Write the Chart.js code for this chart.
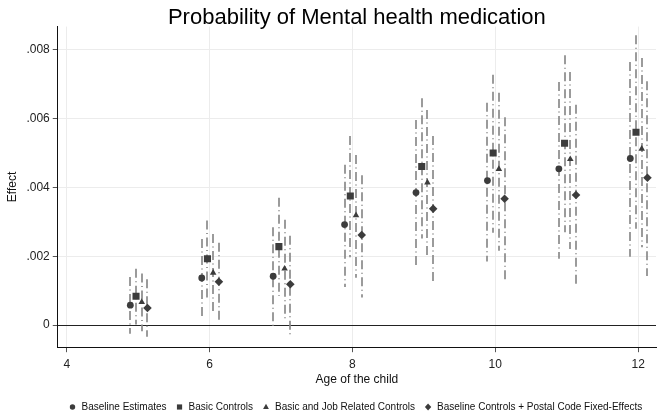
<!DOCTYPE html>
<html>
<head>
<meta charset="utf-8">
<script src="https://cdn.jsdelivr.net/npm/chart.js@4/dist/chart.umd.min.js"></script>
<style>
  html, body { margin: 0; padding: 0; background: #fff; }
  #wrap { width: 661px; height: 416px; }
</style>
</head>
<body>
<div id="wrap"><canvas id="c" width="661" height="416"></canvas></div>
<script>
// Age of the child (x categories)
const ages = [5, 6, 7, 8, 9, 10, 11, 12];

// Series names and horizontal dodge per model (in age units)
const seriesNames = [
  'Baseline Estimates',
  'Basic Controls',
  'Basic and Job Related Controls',
  'Baseline Controls + Postal Code Fixed-Effects'
];
const dodge = [-0.11, -0.03, 0.05, 0.13];

// Point estimates and confidence bounds for each model
const baselineEst = [0.00058, 0.00137, 0.00142, 0.00292, 0.00385, 0.00420, 0.00454, 0.00484];
const baselineLo  = [-0.00025, 0.00025, -0.00003, 0.00111, 0.00175, 0.00185, 0.00193, 0.00199];
const baselineHi  = [0.00140, 0.00250, 0.00284, 0.00466, 0.00596, 0.00646, 0.00706, 0.00764];

const basicEst = [0.00084, 0.00193, 0.00228, 0.00375, 0.00461, 0.00500, 0.00528, 0.00560];
const basicLo  = [0.00002, 0.00080, 0.00085, 0.00197, 0.00252, 0.00268, 0.00270, 0.00280];
const basicHi  = [0.00164, 0.00304, 0.00370, 0.00549, 0.00659, 0.00727, 0.00784, 0.00842];

const jobEst = [0.00067, 0.00152, 0.00164, 0.00319, 0.00414, 0.00453, 0.00482, 0.00512];
const jobLo  = [-0.00018, 0.00039, 0.00018, 0.00138, 0.00204, 0.00216, 0.00221, 0.00226];
const jobHi  = [0.00150, 0.00265, 0.00306, 0.00494, 0.00625, 0.00675, 0.00735, 0.00776];

const postalEst = [0.00050, 0.00126, 0.00119, 0.00262, 0.00338, 0.00367, 0.00378, 0.00428];
const postalLo  = [-0.00034, 0.00012, -0.00029, 0.00080, 0.00126, 0.00131, 0.00117, 0.00143];
const postalHi  = [0.00133, 0.00239, 0.00260, 0.00435, 0.00549, 0.00604, 0.00640, 0.00708];

// Axis ticks
const xTicks = [4, 6, 8, 10, 12];
const yTicks = [0, 0.002, 0.004, 0.006, 0.008];

const estimates = [baselineEst, basicEst, jobEst, postalEst];
const lowers = [baselineLo, basicLo, jobLo, postalLo];
const uppers = [baselineHi, basicHi, jobHi, postalHi];
const markers = ['circle', 'rect', 'triangle', 'rectRot'];
const markerRadius = [3.4, 5, 3.8, 4.3];

const FONT = "'Liberation Sans', Arial, sans-serif";
const markColor = '#3c3c3c';

const datasets = seriesNames.map((name, s) => ({
  label: name,
  data: ages.map((a, i) => ({ x: a + dodge[s], y: estimates[s][i] })),
  pointStyle: markers[s],
  pointRadius: markerRadius[s],
  pointBackgroundColor: markColor,
  pointBorderColor: markColor,
  pointBorderWidth: 0,
  backgroundColor: markColor,
  borderColor: markColor,
  showLine: false
}));

// Dashed confidence intervals behind the markers
const ciPlugin = {
  id: 'ciBars',
  beforeDatasetsDraw(chart) {
    const { ctx, scales: { x, y } } = chart;
    ctx.save();
    ctx.strokeStyle = '#8a8a8a';
    ctx.lineWidth = 1.7;
    ctx.setLineDash([9, 3.5, 1, 3.5]);
    ctx.lineCap = 'butt';
    seriesNames.forEach((_, s) => {
      ages.forEach((a, i) => {
        const px = Math.round(x.getPixelForValue(a + dodge[s]));
        ctx.beginPath();
        ctx.moveTo(px, y.getPixelForValue(uppers[s][i]));
        ctx.lineTo(px, y.getPixelForValue(lowers[s][i]));
        ctx.stroke();
      });
    });
    ctx.restore();
  }
};

// Small marker shapes for the legend row
function legendMarker(ctx, style, cx, cy) {
  ctx.beginPath();
  if (style === 'circle') {
    ctx.arc(cx, cy, 2.7, 0, Math.PI * 2);
  } else if (style === 'rect') {
    ctx.rect(cx - 2.6, cy - 2.6, 5.2, 5.2);
  } else if (style === 'triangle') {
    ctx.moveTo(cx, cy - 3.2);
    ctx.lineTo(cx + 2.9, cy + 2);
    ctx.lineTo(cx - 2.9, cy + 2);
    ctx.closePath();
  } else {
    ctx.moveTo(cx, cy - 3.6);
    ctx.lineTo(cx + 3.2, cy);
    ctx.lineTo(cx, cy + 3.6);
    ctx.lineTo(cx - 3.2, cy);
    ctx.closePath();
  }
  ctx.fill();
}

// One-row legend centred under the plot area
const legendRow = {
  id: 'legendRow',
  afterDraw(chart) {
    const { ctx, chartArea } = chart;
    const y = 407;
    const markGap = 10;
    const itemGap = 12;
    ctx.save();
    ctx.font = '10px ' + FONT;
    ctx.textBaseline = 'middle';
    ctx.textAlign = 'left';
    const widths = seriesNames.map(n => ctx.measureText(n).width);
    const total = widths.reduce((a, w) => a + markGap + w, 0) + itemGap * (seriesNames.length - 1);
    let x = (chartArea.left + chartArea.right) / 2 - total / 2;
    seriesNames.forEach((name, s) => {
      ctx.fillStyle = markColor;
      legendMarker(ctx, markers[s], x + 1, y);
      ctx.fillStyle = '#111';
      ctx.fillText(name, x + markGap, y + 0.5);
      x += markGap + widths[s] + itemGap;
    });
    ctx.restore();
  }
};

new Chart(document.getElementById('c'), {
  type: 'scatter',
  data: { datasets },
  plugins: [ciPlugin, legendRow],
  options: {
    responsive: false,
    animation: false,
    devicePixelRatio: 1,
    layout: { padding: { left: 1, right: 4, top: 9, bottom: 25 } },
    plugins: {
      tooltip: { enabled: false },
      legend: { display: false },
      title: {
        display: true,
        text: 'Probability of Mental health medication',
        fullSize: false,
        color: '#000',
        font: { family: FONT, size: 22, weight: 'normal', lineHeight: 0.8 },
        padding: { top: 0, bottom: 0 }
      }
    },
    scales: {
      x: {
        type: 'linear',
        min: 3.874,
        max: 12.25,
        afterBuildTicks(scale) { scale.ticks = xTicks.map(v => ({ value: v })); },
        ticks: {
          color: '#222',
          font: { family: FONT, size: 12 },
          padding: 5,
          callback: v => String(v)
        },
        grid: { color: '#ececec', lineWidth: 1, tickColor: '#555', tickLength: 5 },
        border: { display: true, color: '#111', width: 1 },
        title: {
          display: true,
          text: 'Age of the child',
          color: '#111',
          font: { family: FONT, size: 12 },
          padding: { top: -4, bottom: 4 }
        }
      },
      y: {
        type: 'linear',
        min: -0.00064,
        max: 0.00867,
        afterBuildTicks(scale) { scale.ticks = yTicks.map(v => ({ value: v })); },
        ticks: {
          color: '#222',
          font: { family: FONT, size: 12 },
          padding: 3,
          callback: v => (v === 0 ? '0' : v.toFixed(3).replace(/^0/, ''))
        },
        grid: {
          color: c => (c.tick && c.tick.value === 0 ? '#222' : '#ececec'),
          lineWidth: 1,
          tickColor: '#555',
          tickLength: 5
        },
        border: { display: true, color: '#111', width: 1 },
        title: {
          display: true,
          text: 'Effect',
          color: '#111',
          font: { family: FONT, size: 12 },
          padding: { top: 4, bottom: 4 }
        }
      }
    }
  }
});
</script>
</body>
</html>
